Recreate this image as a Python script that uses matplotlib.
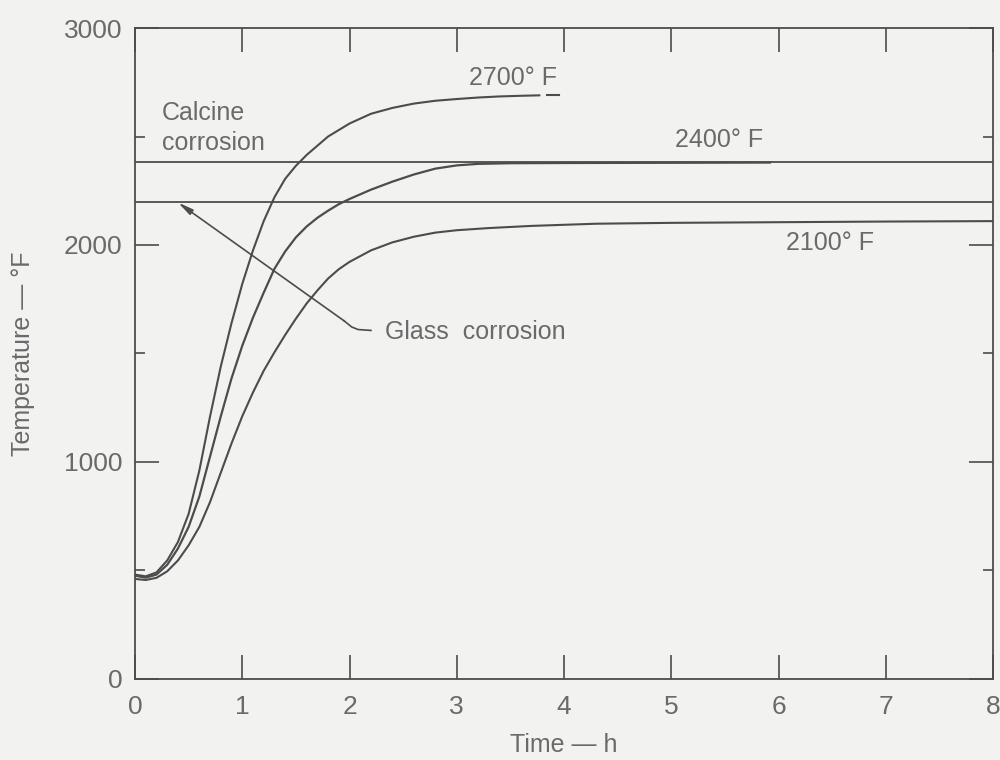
import matplotlib.pyplot as plt
from matplotlib.ticker import MultipleLocator

# Furnace temperature history for three set points (time in h, temperature in deg F)
t_2700 = [0, 0.1, 0.2, 0.3, 0.4, 0.5, 0.6, 0.7, 0.8, 0.9, 1.0, 1.1, 1.2, 1.3,
          1.4, 1.5, 1.6, 1.8, 2.0, 2.2, 2.4, 2.6, 2.8, 3.0, 3.2, 3.4, 3.6, 3.77]
T_2700 = [480, 472, 490, 545, 630, 760, 960, 1210, 1440, 1640, 1820, 1975, 2110, 2220,
          2305, 2365, 2415, 2500, 2560, 2605, 2632, 2652, 2665, 2673, 2680, 2685, 2688, 2690]
t_2700_tail = [3.84, 3.95]
T_2700_tail = [2690, 2690]

t_2400 = [0, 0.1, 0.2, 0.3, 0.4, 0.5, 0.6, 0.7, 0.8, 0.9, 1.0, 1.1, 1.2, 1.3,
          1.4, 1.5, 1.6, 1.7, 1.8, 1.9, 2.0, 2.2, 2.4, 2.6, 2.8, 3.0, 3.2, 3.5,
          4.0, 5.0, 5.92]
T_2400 = [475, 466, 480, 525, 600, 700, 840, 1025, 1210, 1385, 1535, 1665, 1780, 1890,
          1970, 2035, 2085, 2125, 2158, 2188, 2212, 2255, 2292, 2325, 2352, 2367, 2374, 2377,
          2378, 2379, 2380]

t_2100 = [0, 0.1, 0.2, 0.3, 0.4, 0.5, 0.6, 0.7, 0.8, 0.9, 1.0, 1.1, 1.2, 1.3,
          1.4, 1.5, 1.6, 1.7, 1.8, 1.9, 2.0, 2.2, 2.4, 2.6, 2.8, 3.0, 3.3, 3.7,
          4.3, 5.0, 6.0, 7.0, 8.0]
T_2100 = [460, 455, 465, 495, 545, 615, 700, 815, 950, 1085, 1210, 1320, 1420, 1505,
          1585, 1660, 1730, 1790, 1845, 1888, 1922, 1975, 2012, 2038, 2057, 2068, 2078, 2088,
          2098, 2102, 2105, 2108, 2110]

calcine_limit = 2382
glass_limit = 2196

line_c = '#4c4c4c'
text_c = '#6a6a6a'
bg = '#f2f2f1'

plt.rcParams['font.family'] = ['Liberation Sans', 'DejaVu Sans']

fig = plt.figure(figsize=(10, 7.6), dpi=100, facecolor=bg)
ax = fig.add_axes([0.135, 0.107, 0.858, 0.856], facecolor=bg)

ax.axhline(calcine_limit, color=line_c, lw=1.3)
ax.axhline(glass_limit, color=line_c, lw=1.3)

ax.plot(t_2700, T_2700, color=line_c, lw=1.5)
ax.plot(t_2700_tail, T_2700_tail, color=line_c, lw=1.5)
ax.plot(t_2400, T_2400, color=line_c, lw=1.6)
ax.plot(t_2100, T_2100, color=line_c, lw=1.5)

fs = 18
ax.text(0.25, 2540, 'Calcine\ncorrosion', fontsize=fs, color=text_c,
        ha='left', va='center', linespacing=1.3)
ax.text(3.52, 2768, '2700° F', fontsize=fs, color=text_c, ha='center', va='center')
ax.text(5.45, 2483, '2400° F', fontsize=fs, color=text_c, ha='center', va='center')
ax.text(6.48, 2007, '2100° F', fontsize=fs, color=text_c, ha='center', va='center')
ax.text(2.33, 1600, 'Glass  corrosion', fontsize=fs, color=text_c,
        ha='left', va='center')

# leader from the label up to the glass corrosion line
ax.plot([1.95, 2.02, 2.08, 2.2], [1650, 1622, 1610, 1606], color=line_c, lw=1.2)
ax.annotate('', xy=(0.40, glass_limit), xytext=(1.95, 1650),
            arrowprops=dict(arrowstyle='-|>,head_length=0.9,head_width=0.18',
                            color=line_c, lw=1.2, shrinkA=0, shrinkB=0),
            annotation_clip=False)

ax.set_xlim(0, 8)
ax.set_ylim(0, 3000)
ax.xaxis.set_major_locator(MultipleLocator(1))
ax.yaxis.set_major_locator(MultipleLocator(1000))
ax.yaxis.set_minor_locator(MultipleLocator(500))

ax.tick_params(which='both', direction='in', top=True, right=True,
               color=line_c, width=1.2, labelcolor=text_c)
ax.tick_params(which='major', length=17, labelsize=19)
ax.tick_params(which='minor', length=7)
ax.tick_params(axis='x', pad=12)
ax.tick_params(axis='y', pad=9)

for s in ax.spines.values():
    s.set_color(line_c)
    s.set_linewidth(1.3)

ax.set_xlabel('Time — h', fontsize=fs, color=text_c)
ax.set_ylabel('Temperature — °F', fontsize=fs, color=text_c)
ax.xaxis.set_label_coords(0.5, -0.083)
ax.yaxis.set_label_coords(-0.117, 0.5)

fig.savefig('out.png', dpi=100, facecolor=bg)
